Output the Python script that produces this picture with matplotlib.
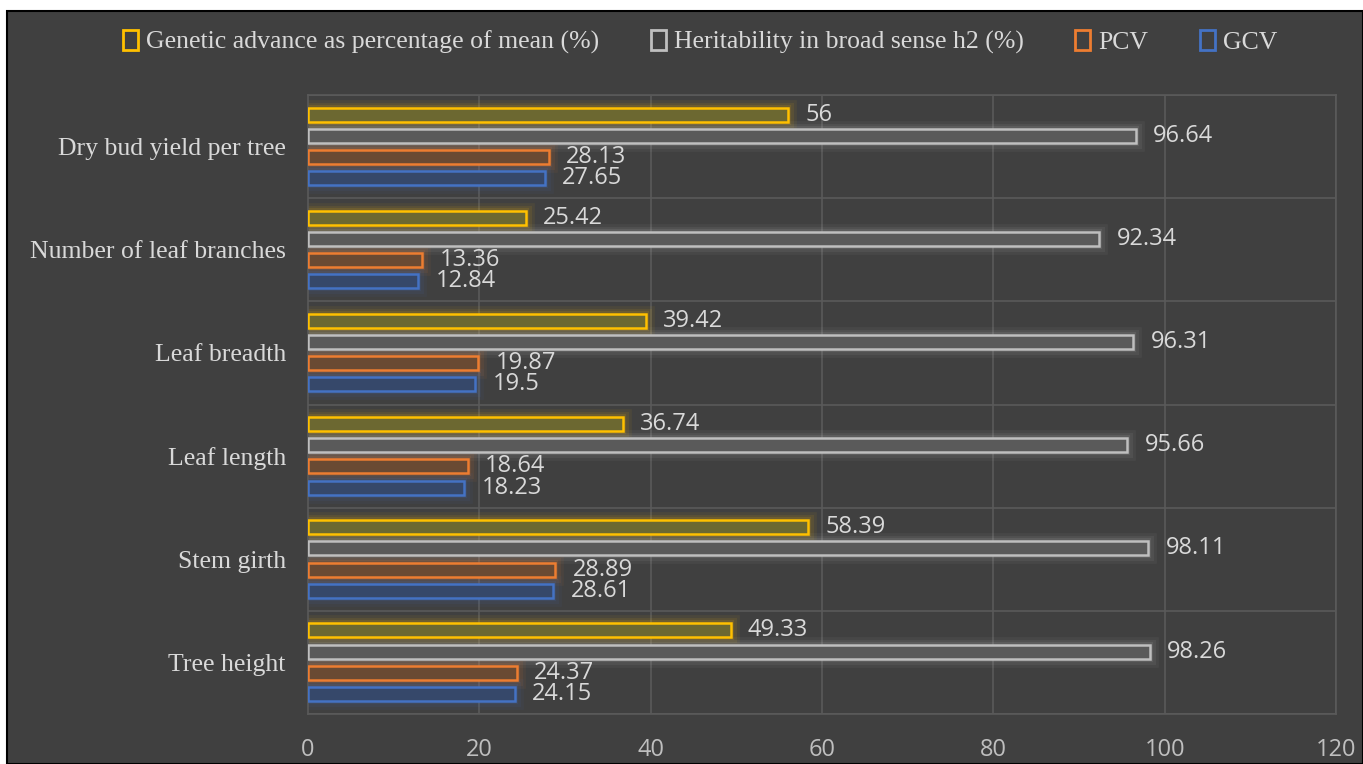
import numpy as np
import matplotlib
matplotlib.use("Agg")
from matplotlib import pyplot as plt
from matplotlib.patches import Patch, Rectangle

# traits, bottom to top as they sit on the y axis
traits = [
    "Tree height",
    "Stem girth",
    "Leaf length",
    "Leaf breadth",
    "Number of leaf branches",
    "Dry bud yield per tree",
]
gcv = [24.15, 28.61, 18.23, 19.5, 12.84, 27.65]
pcv = [24.37, 28.89, 18.64, 19.87, 13.36, 28.13]
heritability = [98.26, 98.11, 95.66, 96.31, 92.34, 96.64]
genetic_advance = [49.33, 58.39, 36.74, 39.42, 25.42, 56]

series_names = [
    "Genetic advance as percentage of mean (%)",
    "Heritability in broad sense h2 (%)",
    "PCV",
    "GCV",
]
x_ticks = [0, 20, 40, 60, 80, 100, 120]

BG = "#404040"
GRID = "#5a5a5a"
TXT = "#d9d9d9"
serif = "Liberation Serif"
sans = "Open Sans"

# (values, edge colour, fill colour, offset inside the group)
series = [
    (genetic_advance, "#ffc000", "#6c6831", 0.31),
    (heritability, "#bfbfbf", "#5a5a5a", 0.105),
    (pcv, "#ed7d31", "#6a4a33", -0.10),
    (gcv, "#4472c4", "#36486a", -0.305),
]
bar_h = 0.135

fig = plt.figure(figsize=(13.63, 7.64), dpi=100)
fig.patch.set_facecolor("white")
# dark panel with a thin black frame
fig.add_artist(Rectangle((7 / 1363, 0), 1 - 7 / 1363, 1 - 11 / 764,
                         transform=fig.transFigure, facecolor=BG,
                         edgecolor="black", linewidth=1.5, zorder=0))

ax = fig.add_axes([308 / 1363, 1 - 714 / 764, (1336 - 308) / 1363, (714 - 95) / 764])
ax.set_facecolor(BG)

y = np.arange(len(traits))

for vals, edge, fill, off in series:
    # soft glow around each bar
    for lw, a in [(12, 0.06), (8, 0.08), (4.5, 0.12)]:
        ax.barh(y + off, vals, height=bar_h, left=0, facecolor="none",
                edgecolor=edge, linewidth=lw, alpha=a, zorder=2)
    ax.barh(y + off, vals, height=bar_h, left=0, facecolor=fill,
            edgecolor=edge, linewidth=1.8, zorder=3)
    for yi, v in zip(y, vals):
        ax.annotate(f"{v:g}", (v, yi + off), xytext=(12.5, 0),
                    textcoords="offset points", va="center", ha="left",
                    fontsize=17, family=sans, color=TXT, zorder=4)

ax.set_xlim(0, 120)
ax.set_ylim(-0.5, len(traits) - 0.5)
ax.set_xticks(x_ticks)
ax.set_xticklabels([str(t) for t in x_ticks], fontsize=17, family=sans, color="#bfbfbf")
ax.set_yticks(y)
ax.set_yticklabels(traits, fontsize=18.5, family=serif, color=TXT)
ax.tick_params(axis="x", length=0, pad=17)
ax.tick_params(axis="y", length=0, pad=16)

# vertical value gridlines and horizontal category dividers
for t in x_ticks[1:]:
    ax.axvline(t, color=GRID, linewidth=1.2, zorder=1)
for b in np.arange(-0.5, len(traits), 1.0):
    ax.axhline(b, color=GRID, linewidth=1.2, zorder=1)
for s in ax.spines.values():
    s.set_color(GRID)
    s.set_linewidth(1.2)

handles = [Patch(facecolor="none", edgecolor=edge, linewidth=2)
           for _, edge, _, _ in series]
leg = fig.legend(handles, series_names, loc="center",
                 bbox_to_anchor=(700 / 1363, 1 - 42 / 764), ncol=4,
                 frameon=False, handlelength=0.6, handleheight=0.8,
                 handletextpad=0.3, columnspacing=2.0,
                 prop={"family": serif, "size": 18.5})
for t in leg.get_texts():
    t.set_color(TXT)

fig.savefig("out.png", dpi=100, facecolor=fig.get_facecolor())
